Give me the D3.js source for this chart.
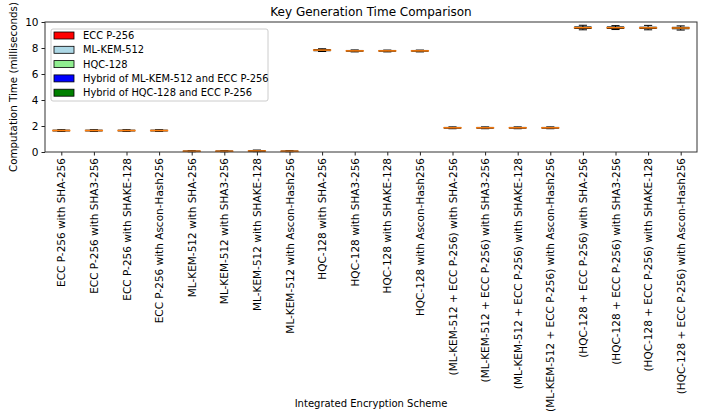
<!DOCTYPE html>
<html>
<head>
<meta charset="utf-8">
<script src="https://cdn.jsdelivr.net/npm/d3@7"></script>
<style>
  body { margin: 0; background: #fff; }
  text { font-family: "DejaVu Sans", sans-serif; fill: #000; }
</style>
</head>
<body>
<svg id="chart" width="715" height="412"></svg>
<script>
// schemes along the x axis
var schemes = [
    "ECC P-256 with SHA-256", "ECC P-256 with SHA3-256", "ECC P-256 with SHAKE-128", "ECC P-256 with Ascon-Hash256",
    "ML-KEM-512 with SHA-256", "ML-KEM-512 with SHA3-256", "ML-KEM-512 with SHAKE-128", "ML-KEM-512 with Ascon-Hash256",
    "HQC-128 with SHA-256", "HQC-128 with SHA3-256", "HQC-128 with SHAKE-128", "HQC-128 with Ascon-Hash256",
    "(ML-KEM-512 + ECC P-256) with SHA-256", "(ML-KEM-512 + ECC P-256) with SHA3-256",
    "(ML-KEM-512 + ECC P-256) with SHAKE-128", "(ML-KEM-512 + ECC P-256) with Ascon-Hash256",
    "(HQC-128 + ECC P-256) with SHA-256", "(HQC-128 + ECC P-256) with SHA3-256",
    "(HQC-128 + ECC P-256) with SHAKE-128", "(HQC-128 + ECC P-256) with Ascon-Hash256"
];
// group index of each scheme (for colour)
var groupOf = [0,0,0,0, 1,1,1,1, 2,2,2,2, 3,3,3,3, 4,4,4,4];
var groupNames = ["ECC P-256", "ML-KEM-512", "HQC-128", "Hybrid of ML-KEM-512 and ECC P-256", "Hybrid of HQC-128 and ECC P-256"];
var groupColors = ["red", "lightblue", "lightgreen", "blue", "green"];

// box statistics in ms
var whiskerLow  = [1.59,1.59,1.59,1.59, 0.02,0.02,0.03,0.02, 7.73,7.70,7.70,7.70, 1.79,1.79,1.79,1.79, 9.40,9.42,9.40,9.38];
var q1          = [1.62,1.62,1.62,1.62, 0.04,0.04,0.05,0.04, 7.79,7.75,7.75,7.75, 1.83,1.83,1.83,1.83, 9.50,9.50,9.50,9.48];
var median      = [1.65,1.65,1.65,1.65, 0.06,0.06,0.08,0.06, 7.84,7.78,7.78,7.78, 1.86,1.86,1.86,1.86, 9.56,9.56,9.55,9.54];
var q3          = [1.68,1.68,1.68,1.68, 0.08,0.08,0.11,0.08, 7.88,7.81,7.81,7.81, 1.89,1.89,1.89,1.89, 9.62,9.62,9.60,9.59];
var whiskerHigh = [1.71,1.71,1.71,1.71, 0.10,0.10,0.15,0.10, 7.94,7.85,7.84,7.84, 1.93,1.93,1.93,1.93, 9.75,9.72,9.74,9.70];
var yTicks = [0, 2, 4, 6, 8, 10];

var svg = d3.select("#chart");
var m = { top: 22, right: 18, bottom: 260, left: 45 },
    W = 715 - m.left - m.right,
    H = 412 - m.top - m.bottom;

var g = svg.append("g").attr("transform", "translate(" + m.left + "," + m.top + ")");

var x = d3.scaleLinear().domain([0.5, schemes.length + 0.5]).range([0, W]);
var y = d3.scaleLinear().domain([0, 10]).range([H, 0]);
var step = x(2) - x(1);

// axes
var yAxis = g.append("g")
    .call(d3.axisLeft(y).tickValues(yTicks).tickSize(3.5).tickPadding(3));
yAxis.selectAll("text").style("font-size", "10.5px");

var xAxis = g.append("g")
    .attr("transform", "translate(0," + H + ")")
    .call(d3.axisBottom(x).tickValues(d3.range(1, schemes.length + 1)).tickSize(3.5)
        .tickFormat(function(d) { return schemes[d - 1]; }));
xAxis.selectAll("text")
    .style("font-size", "10.5px")
    .attr("transform", "rotate(-90)")
    .attr("text-anchor", "end")
    .attr("x", -6)
    .attr("y", 0)
    .attr("dy", "0.35em");
g.selectAll(".domain").remove();
g.selectAll(".tick line").attr("stroke", "#222");

// boxes
var boxes = g.selectAll(".box")
    .data(d3.range(schemes.length))
    .enter()
    .append("g")
    .attr("class", "box")
    .attr("transform", function(i) { return "translate(" + x(i + 1) + ",0)"; });

var bw = step * 0.5, cw = step * 0.25;
boxes.append("line")
    .attr("x1", 0).attr("x2", 0)
    .attr("y1", function(i) { return y(whiskerLow[i]); })
    .attr("y2", function(i) { return y(whiskerHigh[i]); })
    .attr("stroke", "#000").attr("stroke-width", 1);
boxes.append("line")
    .attr("x1", -cw / 2).attr("x2", cw / 2)
    .attr("y1", function(i) { return y(whiskerLow[i]); })
    .attr("y2", function(i) { return y(whiskerLow[i]); })
    .attr("stroke", "#000").attr("stroke-width", 1);
boxes.append("line")
    .attr("x1", -cw / 2).attr("x2", cw / 2)
    .attr("y1", function(i) { return y(whiskerHigh[i]); })
    .attr("y2", function(i) { return y(whiskerHigh[i]); })
    .attr("stroke", "#000").attr("stroke-width", 1);
boxes.append("rect")
    .attr("x", -bw / 2)
    .attr("width", bw)
    .attr("y", function(i) { return y(q3[i]); })
    .attr("height", function(i) { return y(q1[i]) - y(q3[i]); })
    .attr("fill", function(i) { return groupColors[groupOf[i]]; })
    .attr("stroke", "#000").attr("stroke-width", 1);
boxes.append("line")
    .attr("x1", -bw / 2 - 1).attr("x2", bw / 2 + 1)
    .attr("y1", function(i) { return y(median[i]); })
    .attr("y2", function(i) { return y(median[i]); })
    .attr("stroke", "#ff7f0e").attr("stroke-width", 1.5);

// frame
g.append("rect")
    .attr("width", W).attr("height", H)
    .attr("fill", "none").attr("stroke", "#333").attr("stroke-width", 1);

// legend
var lg = g.append("g").attr("transform", "translate(6,7)");
lg.append("rect")
    .attr("width", 217).attr("height", 72).attr("rx", 2)
    .attr("fill", "#fff").attr("fill-opacity", 0.8)
    .attr("stroke", "#ccc");
var item = lg.selectAll(".item")
    .data(groupNames)
    .enter()
    .append("g")
    .attr("transform", function(d, i) { return "translate(3," + (3 + i * 14.3) + ")"; });
item.append("rect")
    .attr("width", 20).attr("height", 7)
    .attr("fill", function(d, i) { return groupColors[i]; })
    .attr("stroke", "#000").attr("stroke-width", 0.8);
item.append("text")
    .attr("x", 29).attr("y", 3.5).attr("dy", "0.35em")
    .style("font-size", "9.9px")
    .text(function(d) { return d; });

// titles
svg.append("text")
    .attr("x", m.left + W / 2).attr("y", 16)
    .attr("text-anchor", "middle")
    .style("font-size", "12px")
    .text("Key Generation Time Comparison");
svg.append("text")
    .attr("x", m.left + W / 2).attr("y", 407)
    .attr("text-anchor", "middle")
    .style("font-size", "10px")
    .text("Integrated Encryption Scheme");
svg.append("text")
    .attr("transform", "translate(17," + (m.top + H / 2) + ") rotate(-90)")
    .attr("text-anchor", "middle")
    .style("font-size", "10.3px")
    .text("Computation Time (milliseconds)");
</script>
</body>
</html>
